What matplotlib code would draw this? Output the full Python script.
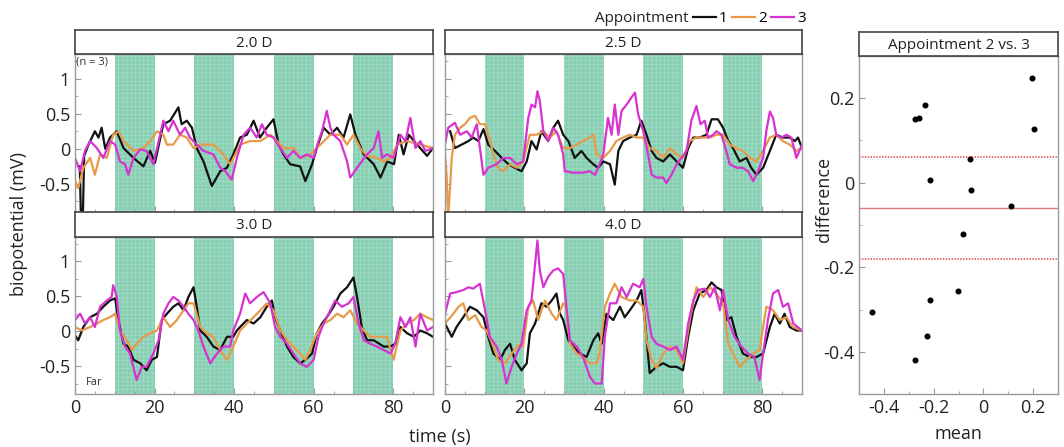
import numpy as np
import matplotlib.pyplot as plt
from matplotlib.ticker import MultipleLocator

plt.rcParams['font.family'] = ['Open Sans', 'DejaVu Sans']
plt.rcParams['hatch.linewidth'] = 0.5

# stimulus blocks (s)
blocks = [(10, 20), (30, 40), (50, 60), (70, 80)]

# --- 2.0 D : (time s, biopotential mV) ---
d20_a1 = [(1.2, -0.25), (1.5, -1.0), (2.0, -0.9), (2.3, -0.1), (3.4, 0.06), (5.0, 0.25), (5.9, 0.16), (6.7, 0.3),
          (7.6, 0.0), (8.8, 0.16), (10.5, 0.25), (12.2, 0.01), (14.7, -0.13), (17.2, -0.25), (18.9, -0.03),
          (20.1, -0.2), (22.2, 0.35), (23.9, 0.4), (26.0, 0.59), (26.8, 0.35), (28.1, 0.4), (29.4, 0.3),
          (30.6, 0.01), (32.3, -0.18), (34.4, -0.53), (36.5, -0.32), (38.2, -0.27), (39.8, -0.08), (41.5, 0.16),
          (43.2, 0.2), (44.9, 0.4), (46.5, 0.16), (48.2, 0.3), (49.9, 0.42), (51.2, 0.06), (52.4, -0.08),
          (54.1, -0.22), (56.6, -0.25), (57.9, -0.46), (59.6, -0.22), (60.8, 0.01), (62.5, 0.3), (64.2, 0.2),
          (65.9, 0.3), (67.5, 0.16), (69.2, 0.49), (70.5, 0.2), (72.6, -0.08), (75.1, -0.22), (76.8, -0.41),
          (78.5, -0.18), (80.2, -0.22), (81.4, 0.2), (82.6, -0.08), (83.9, 0.2), (86.0, 0.06), (88.5, -0.1),
          (90.0, 0.01)]
d20_a2 = [(0, -0.46), (0.8, -0.56), (2.1, -0.27), (3.8, -0.13), (5.0, -0.37), (6.3, -0.08), (8.0, -0.13),
          (9.6, 0.2), (10.9, 0.25), (12.2, 0.11), (14.7, -0.03), (17.2, 0.01), (18.9, 0.11), (20.6, 0.25),
          (22.2, 0.2), (23.1, 0.06), (24.7, 0.06), (26.4, 0.2), (28.1, 0.16), (29.8, 0.01), (31.5, 0.06),
          (34.8, 0.06), (37.3, -0.08), (39.0, -0.22), (40.3, -0.08), (41.5, 0.06), (44.0, 0.11), (46.6, 0.11),
          (49.1, 0.2), (50.8, 0.11), (52.4, 0.01), (55.0, 0.01), (56.6, -0.13), (59.1, -0.08), (61.7, 0.06),
          (64.2, 0.2), (66.7, 0.2), (68.4, 0.06), (70.0, 0.2), (71.7, 0.01), (73.4, -0.1), (75.9, -0.13),
          (77.6, -0.18), (79.3, -0.13), (81.0, 0.06), (83.5, 0.11), (86.8, 0.06), (90.0, 0.01)]
d20_a3 = [(0, -0.13), (1.3, -0.32), (2.5, -0.03), (3.8, 0.11), (5.5, 0.01), (7.1, -0.13), (8.8, 0.11),
          (10.1, 0.06), (11.3, -0.18), (12.6, -0.22), (13.4, -0.37), (14.7, -0.13), (16.4, -0.01), (18.0, -0.03),
          (19.7, -0.22), (21.4, 0.2), (22.2, 0.4), (23.5, 0.25), (24.7, 0.4), (26.4, 0.2), (27.7, 0.3),
          (28.9, 0.16), (30.6, 0.06), (32.3, -0.03), (34.8, -0.08), (36.5, -0.27), (37.8, -0.32), (39.4, -0.44),
          (40.7, -0.13), (42.4, 0.2), (44.0, 0.3), (45.7, 0.16), (47.0, 0.35), (48.2, 0.2), (49.9, 0.16),
          (51.6, 0.01), (53.3, -0.13), (54.9, -0.03), (56.6, -0.13), (58.3, -0.08), (60.0, -0.13), (61.2, 0.11),
          (62.1, 0.25), (63.3, 0.54), (64.2, 0.3), (65.0, 0.2), (66.7, 0.11), (68.4, -0.18), (69.2, -0.41),
          (70.9, -0.27), (73.4, -0.08), (75.1, 0.01), (76.3, 0.25), (77.2, -0.13), (78.4, -0.08), (80.1, -0.13),
          (81.8, 0.2), (83.1, 0.11), (84.3, 0.44), (85.6, 0.01), (86.8, 0.11), (88.1, -0.03), (90.0, 0.01)]

# --- 2.5 D ---
d25_a1 = [(1.3, 0.25), (2.5, 0.01), (4.2, 0.06), (5.9, 0.11), (7.1, 0.16), (8.4, 0.11), (9.7, 0.28),
          (10.9, 0.06), (12.6, -0.03), (14.3, -0.13), (16.0, -0.22), (17.6, -0.27), (19.3, -0.32), (20.6, -0.18),
          (21.8, 0.11), (23.1, -0.01), (24.3, 0.25), (26.0, 0.11), (27.3, 0.3), (28.5, 0.4), (29.8, 0.2),
          (31.1, 0.11), (32.7, -0.13), (34.4, -0.03), (35.7, -0.13), (37.4, -0.22), (38.6, -0.27), (39.9, -0.18),
          (41.6, -0.22), (42.8, -0.51), (43.7, -0.03), (44.9, 0.11), (46.6, 0.16), (48.3, 0.2), (49.5, 0.4),
          (50.8, 0.2), (52.1, -0.03), (53.3, -0.13), (55.0, -0.18), (56.7, -0.08), (58.4, -0.18), (60.0, -0.27),
          (61.3, 0.01), (62.6, 0.16), (64.2, 0.16), (65.9, 0.2), (67.2, 0.42), (68.8, 0.42), (70.1, 0.3),
          (71.4, 0.11), (72.6, 0.01), (74.3, -0.18), (76.0, -0.13), (77.2, -0.27), (78.5, -0.37), (80.2, -0.27),
          (81.9, -0.03), (83.5, 0.2), (85.2, 0.16), (86.9, 0.16), (88.2, 0.11), (89.0, 0.16), (90.0, 0.01)]
d25_a2 = [(0, -0.08), (0.4, -0.37), (0.8, -1.0), (1.7, -0.13), (2.5, 0.2), (3.8, 0.3), (5.0, 0.35), (6.3, 0.44),
          (7.6, 0.47), (8.8, 0.35), (10.1, 0.35), (10.9, 0.2), (12.2, -0.08), (13.4, -0.27), (14.7, -0.32),
          (16.4, -0.22), (18.1, -0.27), (19.7, -0.18), (21.4, 0.2), (23.1, 0.2), (24.8, 0.25), (26.4, 0.16),
          (28.1, 0.25), (29.8, 0.01), (31.5, 0.01), (33.2, 0.06), (34.8, 0.11), (36.5, 0.16), (37.4, 0.2),
          (38.2, -0.08), (39.9, -0.13), (41.6, -0.03), (43.2, 0.11), (44.9, 0.16), (46.6, 0.2), (48.3, 0.16),
          (50.0, 0.16), (51.6, 0.01), (53.3, -0.03), (55.0, -0.13), (56.7, 0.01), (58.4, -0.08), (60.0, -0.13),
          (61.7, 0.11), (63.4, 0.16), (65.1, 0.16), (66.8, 0.16), (68.4, 0.2), (70.1, 0.2), (71.8, 0.06),
          (73.5, 0.01), (75.1, -0.03), (76.8, -0.13), (78.5, -0.18), (80.2, -0.03), (81.9, 0.16), (83.5, 0.2),
          (85.2, 0.11), (86.9, 0.06), (88.6, -0.03), (90.0, 0.01)]
d25_a3 = [(0, 0.06), (0.8, 0.3), (2.5, 0.37), (3.8, 0.2), (5.5, 0.25), (6.7, 0.16), (8.0, 0.35), (8.8, 0.01),
          (9.7, -0.37), (10.9, -0.27), (13.0, -0.22), (14.7, -0.13), (16.4, -0.13), (18.1, -0.22), (19.7, -0.18),
          (21.0, 0.44), (21.8, 0.63), (22.7, 0.59), (23.3, 0.82), (23.9, 0.68), (24.8, 0.25), (26.0, 0.11),
          (27.3, 0.3), (28.5, 0.2), (29.8, -0.08), (30.2, -0.32), (32.3, -0.34), (34.8, -0.34), (36.5, -0.32),
          (37.8, -0.37), (39.0, -0.22), (39.9, -0.08), (41.1, 0.44), (42.0, 0.2), (42.8, 0.63), (43.7, 0.2),
          (44.5, 0.54), (45.8, 0.63), (47.0, 0.73), (47.9, 0.8), (48.7, 0.49), (50.0, 0.25), (51.2, -0.08),
          (52.1, -0.37), (53.3, -0.41), (55.0, -0.41), (55.8, -0.49), (57.1, -0.37), (58.4, -0.22), (59.6, -0.13),
          (60.9, -0.03), (62.1, 0.4), (63.4, 0.61), (64.4, 0.35), (65.5, 0.4), (66.3, 0.16), (67.6, 0.2),
          (68.4, 0.25), (69.7, 0.2), (70.9, -0.03), (71.8, -0.22), (73.5, -0.27), (75.1, -0.27), (76.4, -0.32),
          (77.7, -0.46), (78.9, -0.32), (80.2, -0.13), (81.0, 0.25), (81.9, 0.53), (82.7, 0.44), (83.5, 0.2),
          (84.8, 0.16), (86.1, 0.2), (87.3, 0.16), (88.6, -0.13), (90.0, 0.06)]

# --- 3.0 D ---
d30_a1 = [(0, -0.06), (0.8, -0.13), (2.1, 0.06), (3.8, 0.2), (5.5, 0.25), (7.1, 0.35), (8.8, 0.44), (10.1, 0.47),
          (10.9, 0.16), (12.2, -0.18), (13.4, -0.22), (14.7, -0.41), (16.4, -0.46), (18.0, -0.56), (19.3, -0.41),
          (20.6, -0.37), (21.8, 0.16), (23.1, 0.25), (24.7, 0.35), (26.0, 0.4), (27.3, 0.3), (28.5, 0.49),
          (29.8, 0.63), (30.6, 0.35), (31.5, 0.01), (33.1, -0.08), (34.8, -0.22), (36.5, -0.27), (38.2, -0.08),
          (39.8, -0.08), (40.7, 0.01), (41.5, 0.06), (43.2, 0.16), (44.9, 0.11), (46.6, 0.2), (48.2, 0.35),
          (49.5, 0.44), (50.3, 0.2), (51.6, 0.01), (53.3, -0.22), (54.9, -0.37), (56.6, -0.46), (57.9, -0.41),
          (59.6, -0.32), (60.8, -0.03), (62.1, 0.11), (63.3, 0.2), (65.0, 0.35), (66.7, 0.54), (68.4, 0.63),
          (70.0, 0.77), (70.9, 0.49), (72.1, 0.06), (73.4, -0.13), (75.1, -0.13), (77.6, -0.22), (79.3, -0.22),
          (80.5, -0.18), (81.8, 0.06), (83.5, -0.03), (85.2, -0.08), (86.8, 0.01), (88.5, -0.03), (90.0, -0.08)]
d30_a2 = [(0, 0.06), (1.7, 0.01), (3.8, 0.06), (5.5, 0.11), (7.1, 0.16), (8.8, 0.2), (10.1, 0.25), (11.3, 0.01),
          (13.0, -0.13), (14.3, -0.27), (15.5, -0.18), (17.2, -0.08), (18.9, -0.03), (20.6, 0.01), (22.2, 0.2),
          (23.9, 0.06), (25.6, 0.16), (27.3, 0.3), (28.5, 0.4), (29.8, 0.4), (31.5, 0.06), (33.1, -0.03),
          (34.8, -0.08), (36.5, -0.27), (38.2, -0.41), (39.8, -0.22), (41.5, 0.01), (43.2, 0.11), (44.9, 0.2),
          (46.6, 0.3), (48.2, 0.4), (49.9, 0.3), (51.6, 0.01), (53.3, -0.13), (54.9, -0.22), (56.6, -0.32),
          (57.9, -0.41), (59.1, -0.27), (60.8, -0.03), (62.5, 0.11), (64.2, 0.16), (65.9, 0.25), (67.5, 0.2),
          (69.2, 0.3), (70.9, 0.11), (72.6, 0.01), (74.2, -0.08), (76.8, -0.08), (78.4, -0.08), (80.1, -0.41),
          (81.8, 0.01), (83.5, 0.11), (85.2, 0.16), (86.8, 0.25), (88.5, 0.2), (90.0, 0.16)]
d30_a3 = [(0, 0.16), (1.3, 0.25), (2.5, 0.11), (3.8, 0.2), (5.0, 0.06), (6.3, 0.35), (8.0, 0.44), (9.2, 0.49),
          (9.6, 0.66), (10.5, 0.49), (11.3, 0.01), (12.6, -0.22), (13.8, -0.32), (15.5, -0.7), (16.8, -0.51),
          (18.0, -0.51), (19.7, -0.32), (21.0, -0.13), (22.2, 0.25), (23.5, 0.4), (24.7, 0.49), (26.0, 0.44),
          (27.3, 0.35), (28.5, 0.25), (29.8, 0.16), (31.0, 0.01), (32.3, -0.22), (34.0, -0.46), (35.7, -0.32),
          (37.3, -0.22), (39.0, -0.22), (39.8, 0.01), (41.5, 0.25), (42.8, 0.54), (44.0, 0.4), (45.7, 0.49),
          (47.4, 0.56), (49.1, 0.4), (50.3, 0.06), (51.6, -0.08), (53.3, -0.18), (54.9, -0.32), (56.6, -0.46),
          (58.3, -0.51), (60.0, -0.41), (61.2, -0.08), (62.5, 0.11), (64.2, 0.3), (65.4, 0.44), (67.1, 0.35),
          (68.8, 0.4), (70.0, 0.49), (71.3, 0.11), (72.6, -0.13), (74.2, -0.18), (75.9, -0.22), (77.6, -0.27),
          (79.3, -0.32), (80.5, -0.18), (81.8, 0.2), (83.1, 0.06), (84.3, 0.2), (85.6, -0.22), (86.8, 0.25),
          (88.5, 0.01), (90.0, 0.06)]

# --- 4.0 D ---
d40_a1 = [(0, 0.11), (1.7, -0.08), (2.9, 0.06), (4.6, 0.2), (6.3, 0.35), (8.0, 0.3), (9.7, 0.2), (10.9, -0.08),
          (12.2, -0.32), (13.9, -0.41), (15.1, -0.27), (16.4, -0.18), (17.6, -0.41), (19.3, -0.56), (20.6, -0.46),
          (21.4, -0.03), (22.7, 0.11), (24.3, 0.4), (25.6, 0.35), (26.9, 0.44), (28.1, 0.54), (29.0, 0.25),
          (29.8, 0.16), (31.1, -0.13), (32.3, -0.22), (34.0, -0.32), (35.7, -0.37), (37.4, -0.13), (38.6, -0.03),
          (39.5, -0.18), (40.7, 0.25), (42.4, 0.16), (44.1, 0.35), (45.3, 0.2), (46.6, 0.3), (48.3, 0.44),
          (49.5, 0.59), (50.4, 0.16), (51.6, -0.6), (53.3, -0.51), (55.0, -0.46), (56.7, -0.51), (58.4, -0.51),
          (60.0, -0.56), (61.3, -0.08), (62.6, 0.3), (64.2, 0.54), (65.9, 0.59), (67.2, 0.7), (68.4, 0.63),
          (69.7, 0.59), (70.9, 0.16), (72.2, 0.2), (73.5, -0.08), (75.1, -0.32), (76.8, -0.37), (78.5, -0.37),
          (80.2, -0.32), (81.9, 0.06), (83.1, 0.25), (84.4, 0.11), (85.6, 0.25), (86.9, 0.06), (88.6, 0.01),
          (90.0, 0.01)]
d40_a2 = [(0, 0.11), (2.1, 0.25), (3.4, 0.35), (4.6, 0.4), (5.9, 0.16), (7.6, 0.23), (9.2, 0.06), (10.5, 0.01),
          (12.2, -0.22), (13.4, -0.41), (15.1, -0.46), (16.8, -0.32), (18.5, -0.2), (19.7, -0.22), (21.0, 0.35),
          (22.2, 0.44), (23.5, 0.16), (25.2, 0.44), (26.9, 0.25), (28.1, 0.16), (29.8, 0.4), (30.6, 0.35),
          (31.5, -0.18), (33.2, -0.32), (34.8, -0.37), (36.5, -0.46), (38.2, -0.46), (39.0, -0.32), (40.3, 0.35),
          (41.6, 0.54), (42.8, 0.68), (44.5, 0.49), (46.6, 0.44), (48.3, 0.44), (50.0, 0.35), (50.8, -0.13),
          (52.1, -0.41), (53.3, -0.53), (55.0, -0.32), (56.7, -0.22), (58.4, -0.27), (60.0, -0.46), (61.7, 0.16),
          (63.4, 0.63), (65.1, 0.49), (66.8, 0.63), (68.4, 0.54), (70.1, 0.4), (71.4, -0.18), (72.6, -0.32),
          (74.3, -0.51), (76.0, -0.41), (77.7, -0.32), (79.3, -0.27), (81.0, 0.35), (82.7, 0.3), (84.4, 0.16),
          (86.1, 0.2), (87.7, 0.06), (90.0, 0.01)]
d40_a3 = [(0, 0.25), (1.3, 0.54), (2.9, 0.56), (4.6, 0.59), (5.9, 0.63), (7.1, 0.61), (8.8, 0.68), (10.1, 0.3),
          (11.3, -0.08), (13.0, -0.22), (14.3, -0.41), (15.5, -0.75), (16.8, -0.51), (18.1, -0.32), (19.3, -0.18),
          (20.6, 0.3), (21.8, 0.44), (23.3, 1.3), (23.9, 0.87), (24.8, 0.63), (26.0, 0.78), (27.3, 0.87),
          (28.5, 0.9), (29.8, 0.82), (30.6, 0.35), (31.5, -0.13), (33.2, -0.22), (34.8, -0.37), (36.5, -0.65),
          (37.8, -0.75), (39.5, -0.75), (40.3, -0.08), (41.6, 0.4), (43.2, 0.4), (44.5, 0.63), (45.8, 0.49),
          (47.4, 0.68), (49.1, 0.63), (50.0, 0.75), (50.8, 0.35), (52.1, -0.08), (53.3, -0.18), (55.0, -0.22),
          (56.7, -0.27), (58.4, -0.22), (60.0, -0.41), (61.3, 0.11), (62.6, 0.44), (63.8, 0.59), (65.5, 0.61),
          (66.8, 0.49), (68.0, 0.63), (69.3, 0.3), (70.1, 0.59), (71.4, 0.16), (73.0, -0.08), (74.7, -0.22),
          (76.4, -0.32), (78.0, -0.37), (79.3, -0.7), (80.2, -0.32), (81.4, 0.16), (82.7, 0.54), (84.0, 0.59),
          (85.2, 0.35), (86.5, 0.4), (87.8, 0.11), (90.0, 0.01)]

# --- Bland-Altman, appointment 2 vs 3 ---
ba_mean = [0.195, 0.204, -0.235, -0.276, -0.257, -0.055, -0.213, -0.049, 0.111, -0.083, -0.101, -0.213,
           -0.449, -0.228, -0.276]
ba_diff = [0.248, 0.128, 0.185, 0.152, 0.154, 0.056, 0.006, -0.016, -0.055, -0.121, -0.256, -0.278,
           -0.307, -0.362, -0.420]
ba_bias = -0.060
ba_loa = [0.062, -0.181]

colors = ['#111111', '#e69a4a', '#d633d0']
labels = ['1', '2', '3']
panels = [('2.0 D', [d20_a1, d20_a2, d20_a3]), ('2.5 D', [d25_a1, d25_a2, d25_a3]),
          ('3.0 D', [d30_a1, d30_a2, d30_a3]), ('4.0 D', [d40_a1, d40_a2, d40_a3])]

W, H = 1064, 447


def box(x0, y0, x1, y1):
    return [x0 / W, 1 - y1 / H, (x1 - x0) / W, (y1 - y0) / H]


def strip(rect, text):
    s = fig.add_axes(rect)
    s.set_xticks([])
    s.set_yticks([])
    for sp in s.spines.values():
        sp.set_color('#444444')
        sp.set_linewidth(1.2)
    s.text(0.5, 0.45, text, ha='center', va='center', fontsize=11, color='#222222')


def style(ax):
    for sp in ax.spines.values():
        sp.set_color('#9a9a9a')
        sp.set_linewidth(1.0)
    ax.tick_params(which='both', direction='in', color='#9a9a9a', labelsize=13, labelcolor='#222222')
    ax.tick_params(which='major', length=4)
    ax.tick_params(which='minor', length=2.5)


fig = plt.figure(figsize=(10.64, 4.47), dpi=100)

plot_px = [(75, 54, 433, 212), (445, 54, 802, 212), (75, 237, 433, 394), (445, 237, 802, 394)]
strip_px = [(75, 30, 433, 54), (445, 30, 802, 54), (75, 212, 433, 237), (445, 212, 802, 237)]

for i, (name, series) in enumerate(panels):
    ax = fig.add_axes(box(*plot_px[i]))
    for a, b in blocks:
        ax.axvspan(a, b, facecolor='#86cfb3', edgecolor='#a6dcc7', hatch='++++', linewidth=0, zorder=0)
    for pts, c, lab in zip(series, colors, labels):
        t, v = np.array(pts).T
        ax.plot(t, v, color=c, linewidth=1.6, label=lab, zorder=2)
    ax.set_xlim(0, 90)
    ax.set_ylim(-0.9, 1.35)
    ax.set_yticks([-0.5, 0, 0.5, 1])
    ax.set_yticklabels(['-0.5', '0', '0.5', '1'])
    ax.yaxis.set_minor_locator(MultipleLocator(0.25))
    ax.set_xticks([0, 20, 40, 60, 80])
    ax.xaxis.set_minor_locator(MultipleLocator(5))
    style(ax)
    if i % 2 == 1:
        ax.tick_params(labelleft=False)
    if i < 2:
        ax.tick_params(labelbottom=False)
    strip(box(*strip_px[i]), name)
    if i == 0:
        ax.text(0.003, 0.985, '(n = 3)', transform=ax.transAxes, ha='left', va='top', fontsize=8, color='#333333')
        handles, hl = ax.get_legend_handles_labels()
    if i == 2:
        ax.text(0.03, 0.04, 'Far', transform=ax.transAxes, ha='left', va='bottom', fontsize=8, color='#333333')

fig.text(0.647, 0.958, 'Appointment', ha='right', va='center', fontsize=11, color='#222222')
fig.legend(handles, hl, loc='center left', bbox_to_anchor=(0.651, 0.958), ncol=3, frameon=False, fontsize=11,
           handlelength=1.5, handletextpad=0.2, columnspacing=0.3, borderpad=0, borderaxespad=0)

fig.text(0.018, 0.5, 'biopotential (mV)', rotation=90, ha='center', va='center', fontsize=13, color='#222222')
fig.text(0.413, 0.022, 'time (s)', ha='center', va='center', fontsize=13, color='#222222')

# Bland-Altman panel
ax = fig.add_axes(box(859, 56, 1058, 394))
ax.scatter(ba_mean, ba_diff, s=11, color='black', zorder=3)
ax.axhline(ba_bias, color='#e07a7a', linewidth=1.0)
for lv in ba_loa:
    ax.axhline(lv, color='#e06060', linewidth=1.3, linestyle=(0, (0.8, 0.8)))
ax.set_xlim(-0.5, 0.3)
ax.set_ylim(-0.5, 0.3)
ax.set_xticks([-0.4, -0.2, 0, 0.2])
ax.set_xticklabels(['-0.4', '-0.2', '0', '0.2'])
ax.set_yticks([-0.4, -0.2, 0, 0.2])
ax.set_yticklabels(['-0.4', '-0.2', '0', '0.2'])
ax.xaxis.set_minor_locator(MultipleLocator(0.1))
ax.yaxis.set_minor_locator(MultipleLocator(0.1))
style(ax)
ax.set_xlabel('mean', fontsize=13, color='#222222')
ax.set_ylabel('difference', fontsize=13, color='#222222')
ax.xaxis.set_label_coords(0.5, -0.092)
ax.yaxis.set_label_coords(-0.13, 0.575)
strip(box(859, 32, 1058, 56), 'Appointment 2 vs. 3')

fig.savefig('out.png', dpi=100)
